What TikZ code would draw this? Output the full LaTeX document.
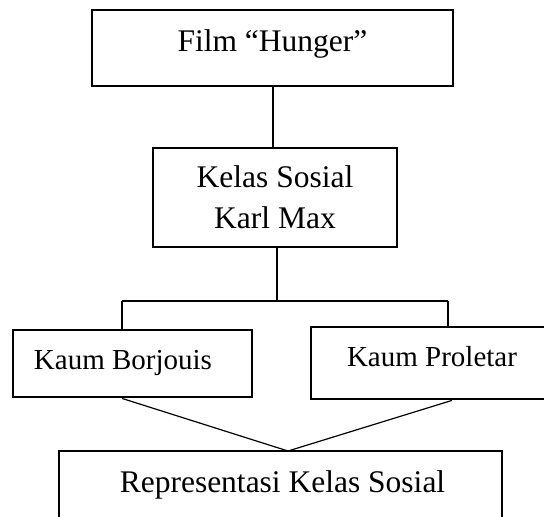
\documentclass[tikz,border=0pt]{standalone}
\usepackage{fontspec}
\setmainfont{Liberation Serif}
\begin{document}
\begin{tikzpicture}[x=1pt,y=-1pt,
  box/.style={draw=black,line width=2.8pt,inner sep=0pt,rectangle,fill=white},
  conn/.style={draw=black,line width=1.2pt},
  bigtxt/.style={inner sep=0pt,anchor=base,font=\fontsize{31.5}{37}\selectfont},
  smalltxt/.style={inner sep=0pt,anchor=base,font=\fontsize{29}{35}\selectfont}]
\useasboundingbox (0,0) rectangle (544,517);
\clip (0,0) rectangle (544,517);
% boxes
\node[box,minimum width=361pt,minimum height=76pt] (top) at (272.5,48) {};
\node[box,minimum width=244pt,minimum height=99pt] (mid) at (275,197.5) {};
\node[box,minimum width=239pt,minimum height=67pt] (lft) at (132.5,363.5) {};
\node[box,minimum width=239pt,minimum height=72pt] (rgt) at (430.5,363) {};
\node[box,minimum width=443pt,minimum height=80pt] (bot) at (280.5,491) {};
% texts
\node[bigtxt] (ttop) at (272.5,51) {Film “Hunger”};
\node[bigtxt] (tmid1) at (275,187) {Kelas Sosial};
\node[bigtxt] (tmid2) at (275,228) {Karl Max};
\node[smalltxt] (tlft) at (123,369) {Kaum Borjouis};
\node[smalltxt] (trgt) at (432,366) {Kaum Proletar};
\node[bigtxt] (tbot) at (282.5,492) {Representasi Kelas Sosial};
% connectors
\coordinate (bl) at (122,301);
\coordinate (br) at (448,301);
\coordinate (bm) at (277,301);
\coordinate (meet) at (288,451);
\draw[conn] (273,0 |- top.south) -- (273,0 |- mid.north);
\draw[conn] (277,0 |- mid.south) -- (bm);
\draw[conn] (bl) -- (br);
\draw[conn] (bl) -- (bl |- lft.north);
\draw[conn] (br) -- (br |- rgt.north);
\draw[conn] (122,0 |- lft.south) -- (meet);
\draw[conn] (452,0 |- rgt.south) -- (meet);
\end{tikzpicture}
\end{document}
